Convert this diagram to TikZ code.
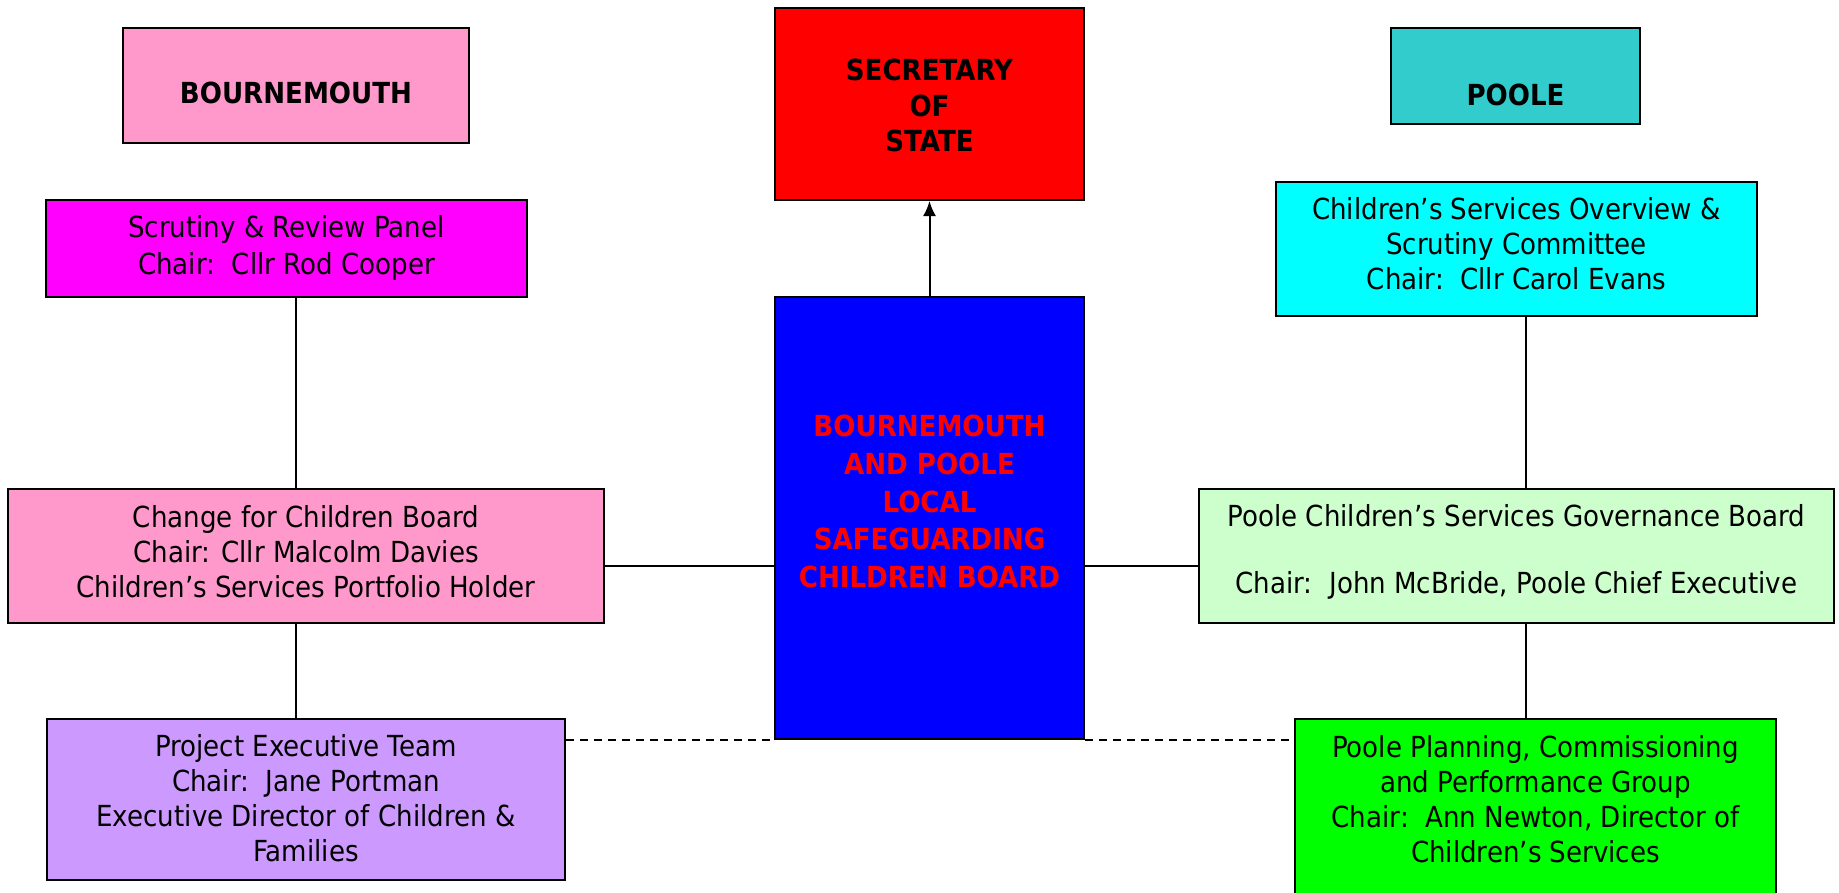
\documentclass[tikz,border=0pt]{standalone}
\usepackage{fontspec}
\setmainfont{DejaVu Sans}[FakeStretch=0.9]
\usepackage{xcolor}
\usetikzlibrary{arrows.meta, positioning}

\definecolor{bmthpink}{HTML}{FF99CC}
\definecolor{poolteal}{HTML}{33CCCC}
\definecolor{lilac}{HTML}{CC99FF}
\definecolor{palegreen}{HTML}{CCFFCC}
\definecolor{panelpink}{HTML}{FF00FF}
\definecolor{brightcyan}{HTML}{00FFFF}
\definecolor{brightgreen}{HTML}{00FF00}
\definecolor{sosred}{HTML}{FF0000}
\definecolor{boardblue}{HTML}{0000FF}

\begin{document}
\begin{tikzpicture}[x=1pt, y=-1pt,
	box/.style={draw=black, line width=2pt, inner sep=0pt},
	txt/.style={align=center, inner sep=0pt, font=\fontsize{29}{35}\selectfont},
	link/.style={line width=2pt}]
		\useasboundingbox (0,0) rectangle (1839,892);
		\clip (0,0) rectangle (1839,892);
		
		% the two councils
		\node (bmth) [box, fill=bmthpink, minimum width=346pt, minimum height=115pt] at (296,85.5) {};
		\node (bmthtxt) [txt, font=\fontsize{29}{35}\selectfont\bfseries] at (296,93) {BOURNEMOUTH};
		\node (poole) [box, fill=poolteal, minimum width=249pt, minimum height=96pt] at (1515.5,76) {};
		\node (pooletxt) [txt, font=\fontsize{29}{35}\selectfont\bfseries] at (1515.5,95) {POOLE};
		
		\node (sos) [box, fill=sosred, minimum width=309pt, minimum height=192pt] at (929.5,104) {};
		\node (sostxt) [txt, font=\fontsize{29}{35.5}\selectfont\bfseries] at (929.5,105.5) {SECRETARY\\OF\\STATE};
		
		\node (lscb) [box, fill=boardblue, minimum width=309pt, minimum height=442pt] at (929.5,517.5) {};
		\node (lscbtxt) [txt, text=sosred, font=\fontsize{29}{37.7}\selectfont\bfseries] at (929.5,501.5) {BOURNEMOUTH\\AND POOLE\\LOCAL\\SAFEGUARDING\\CHILDREN BOARD};
		
		% bournemouth side
		\node (scrutiny) [box, fill=panelpink, minimum width=481pt, minimum height=97pt] at (286.5,248.5) {};
		\node (scrutinytxt) [txt, font=\fontsize{29}{37}\selectfont] at (286.5,248) {Scrutiny \& Review Panel\\Chair:\ \ Cllr Rod Cooper};
		\node (change) [box, fill=bmthpink, minimum width=596pt, minimum height=134pt] at (306,556) {};
		\node (changetxt) [txt] at (306,552) {Change for Children Board\\Chair: Cllr Malcolm Davies\\Children’s Services Portfolio Holder};
		\node (project) [box, fill=lilac, minimum width=518pt, minimum height=161pt] at (306,799.5) {};
		\node (projecttxt) [txt] at (306,798) {Project Executive Team\\Chair:\ \ Jane Portman\\Executive Director of Children \&\\Families};
		
		% poole side
		\node (overview) [box, fill=brightcyan, minimum width=481pt, minimum height=134pt] at (1516.5,249) {};
		\node (overviewtxt) [txt] at (1516.5,244) {Children’s Services Overview \&\\Scrutiny Committee\\Chair:\ \ Cllr Carol Evans};
		\node (govboard) [box, fill=palegreen, minimum width=635pt, minimum height=134pt] at (1516.5,556) {};
		\node (govboardtxt) [txt, font=\fontsize{29}{33.5}\selectfont] at (1516.5,552) {Poole Children’s Services Governance Board\\[33.5pt]Chair:\ \ John McBride, Poole Chief Executive};
		\node (planning) [box, fill=brightgreen, minimum width=481pt, minimum height=200pt] at (1535.5,819) {};
		\node (planningtxt) [txt] at (1535.5,799) {Poole Planning, Commissioning\\and Performance Group\\Chair:\ \ Ann Newton, Director of\\Children’s Services};
		
		\draw [link] ([xshift=9.5pt]scrutiny.south) -- ([xshift=-10pt]change.north);
		\draw [link] ([xshift=-10pt]change.south) -- ([xshift=-10pt]project.north);
		\draw [link] ([xshift=9.5pt]overview.south) -- ([xshift=9.5pt]govboard.north);
		\draw [link] ([xshift=9.5pt]govboard.south) -- ([xshift=-9.5pt]planning.north);
		
		\draw [link] ([yshift=-10pt]change.east) -- ([yshift=-10pt]change.east -| lscb.west);
		\draw [link] ([yshift=-10pt]govboard.west) -- ([yshift=-10pt]govboard.west -| lscb.east);
		
		\draw [link, dash pattern=on 8pt off 6pt] (lscb.south west -| project.east) -- (lscb.south west);
		\draw [link, dash pattern=on 8pt off 6pt] (lscb.south east) -- (lscb.south east -| planning.west);
		
		\draw [link, -{Latex[length=15pt, width=13pt]}] (lscb.north) -- (sos.south);
		
	\end{tikzpicture}
\end{document}
